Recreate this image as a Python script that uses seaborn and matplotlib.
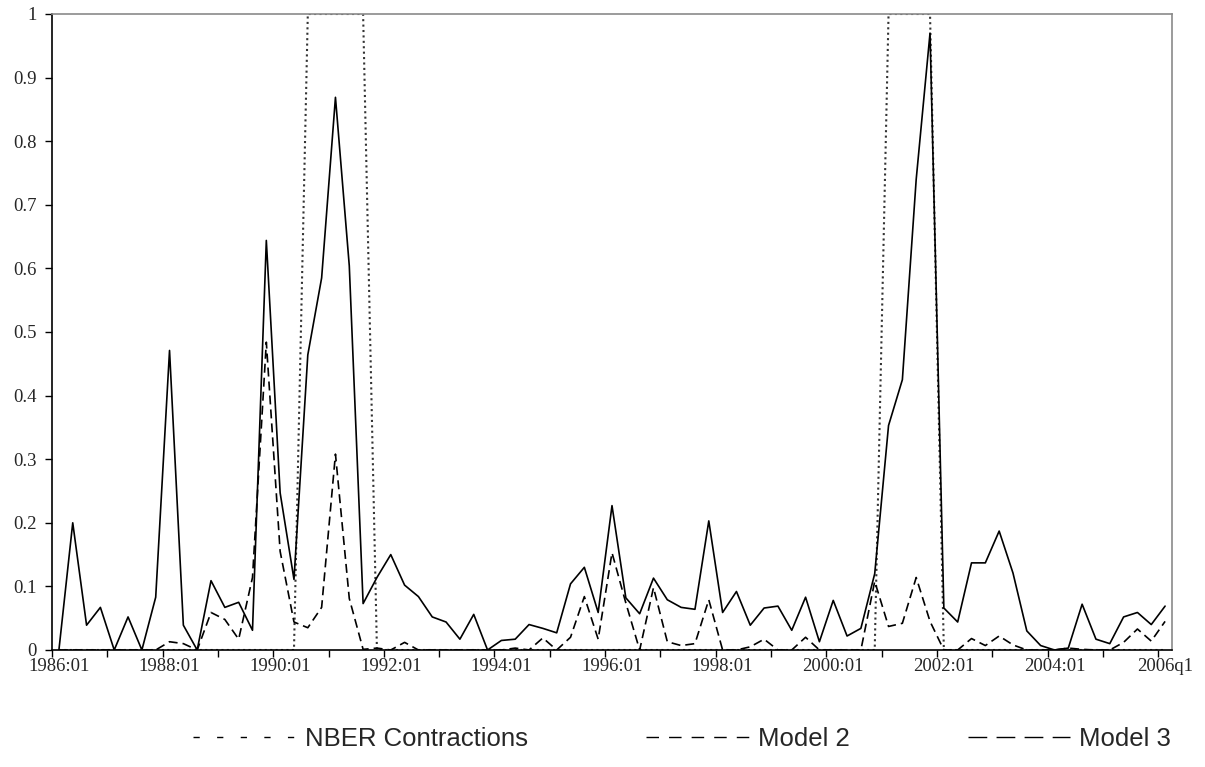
import numpy as np
import pandas as pd
import matplotlib
matplotlib.use("Agg")
import matplotlib.pyplot as plt
from matplotlib.lines import Line2D
from matplotlib.ticker import FixedLocator, FixedFormatter, NullFormatter
import seaborn as sns

# ---------------- data (quarterly, 1986q1 .. 2006q1) ----------------
quarter_index = list(range(81))
tick_labels = ["1986:01", "1988:01", "1990:01", "1992:01", "1994:01",
               "1996:01", "1998:01", "2000:01", "2002:01", "2004:01", "2006q1"]

model3 = [0.0, 0.200, 0.039, 0.067, 0.0, 0.052, 0.0, 0.083, 0.471, 0.039,
          0.0, 0.109, 0.067, 0.075, 0.031, 0.644, 0.247, 0.111, 0.464, 0.585,
          0.869, 0.604, 0.073, 0.114, 0.150, 0.102, 0.084, 0.052, 0.044, 0.017,
          0.056, 0.0, 0.015, 0.017, 0.040, 0.034, 0.027, 0.104, 0.130, 0.059,
          0.227, 0.082, 0.057, 0.113, 0.079, 0.067, 0.064, 0.203, 0.059, 0.092,
          0.039, 0.066, 0.069, 0.031, 0.083, 0.013, 0.078, 0.022, 0.034, 0.120,
          0.353, 0.425, 0.740, 0.970, 0.066, 0.044, 0.137, 0.137, 0.187, 0.121,
          0.030, 0.007, 0.0, 0.003, 0.072, 0.017, 0.010, 0.052, 0.059, 0.040,
          0.069]

model2 = [0.0, 0.0, 0.0, 0.0, 0.0, 0.0, 0.0, 0.0, 0.013, 0.010,
          0.0, 0.059, 0.048, 0.017, 0.114, 0.484, 0.155, 0.044, 0.035, 0.067,
          0.308, 0.081, 0.001, 0.003, 0.0, 0.012, 0.0, 0.0, 0.0, 0.0,
          0.0, 0.0, 0.0, 0.003, 0.0, 0.019, 0.0, 0.020, 0.084, 0.017,
          0.153, 0.074, 0.0, 0.098, 0.013, 0.007, 0.010, 0.079, 0.0, 0.0,
          0.005, 0.017, 0.0, 0.0, 0.020, 0.0, 0.0, 0.0, 0.0, 0.108,
          0.037, 0.042, 0.114, 0.045, 0.0, 0.0, 0.018, 0.007, 0.022, 0.008,
          0.0, 0.0, 0.0, 0.003, 0.001, 0.0, 0.0, 0.012, 0.033, 0.014,
          0.045]

nber = [0] * 18 + [1] * 5 + [0] * 37 + [1] * 4 + [0] * 17

df = pd.DataFrame({"q": quarter_index, "Model 3": model3,
                   "Model 2": model2, "NBER": nber})

# ---------------- style ----------------
sns.set_style("white")
plt.rcParams["font.family"] = ["Liberation Serif", "DejaVu Serif"]

fig = plt.figure(figsize=(12.05, 7.67), dpi=100)
ax = fig.add_axes([52 / 1205, 1 - 650 / 767, (1172 - 52) / 1205, (650 - 14) / 767])

sns.lineplot(data=df, x="q", y="NBER", ax=ax, color="#333333", linewidth=1.5)
ax.lines[-1].set_dashes((1.0, 1.6))
sns.lineplot(data=df, x="q", y="Model 2", ax=ax, color="black", linewidth=1.2)
ax.lines[-1].set_dashes((5.4, 3.0))
sns.lineplot(data=df, x="q", y="Model 3", ax=ax, color="black", linewidth=1.2)

ax.set_xlim(-0.5, 80.5)
ax.set_ylim(0, 1)
ax.set_xlabel("")
ax.set_ylabel("")

# x axis: tick marks between categories every 4 quarters, labels every 8
ax.xaxis.set_major_locator(FixedLocator([-0.5 + 4 * k for k in range(21)]))
ax.xaxis.set_major_formatter(NullFormatter())
ax.xaxis.set_minor_locator(FixedLocator([8 * k for k in range(11)]))
ax.xaxis.set_minor_formatter(FixedFormatter(tick_labels))
ax.tick_params(axis="x", which="major", direction="out", length=5, width=1,
               color="black", bottom=True)
ax.tick_params(axis="x", which="minor", length=0, pad=6, labelsize=13.5,
               bottom=True)

yt = [round(0.1 * k, 1) for k in range(11)]
ax.set_yticks(yt)
ax.set_yticklabels(["0" if v == 0 else ("1" if v == 1 else f"{v:g}") for v in yt])
ax.tick_params(axis="y", direction="out", length=5, width=1, color="black",
               left=True, labelsize=13.5, pad=6)

for s in ["left", "bottom"]:
    ax.spines[s].set_color("black")
    ax.spines[s].set_linewidth(1.2)
for s in ["top", "right"]:
    ax.spines[s].set_color("#8a8a8a")
    ax.spines[s].set_linewidth(1.2)

# ---------------- legend ----------------
handles = [
    Line2D([], [], color="black", linewidth=1.0, dashes=(4.5, 12.5)),
    Line2D([], [], color="black", linewidth=1.0, dashes=(9, 7.25)),
    Line2D([], [], color="black", linewidth=1.0, dashes=(13.5, 6.7)),
]
labels = ["NBER Contractions", "Model 2", "Model 3"]
fig.legend(handles, labels, loc="center", bbox_to_anchor=(0.566, 0.036),
           ncol=3, frameon=False, handlelength=4.0, handletextpad=0.35,
           columnspacing=4.6,
           prop={"family": ["Liberation Sans", "DejaVu Sans"], "size": 18.5})

fig.savefig("out.png", dpi=100, facecolor="white")
